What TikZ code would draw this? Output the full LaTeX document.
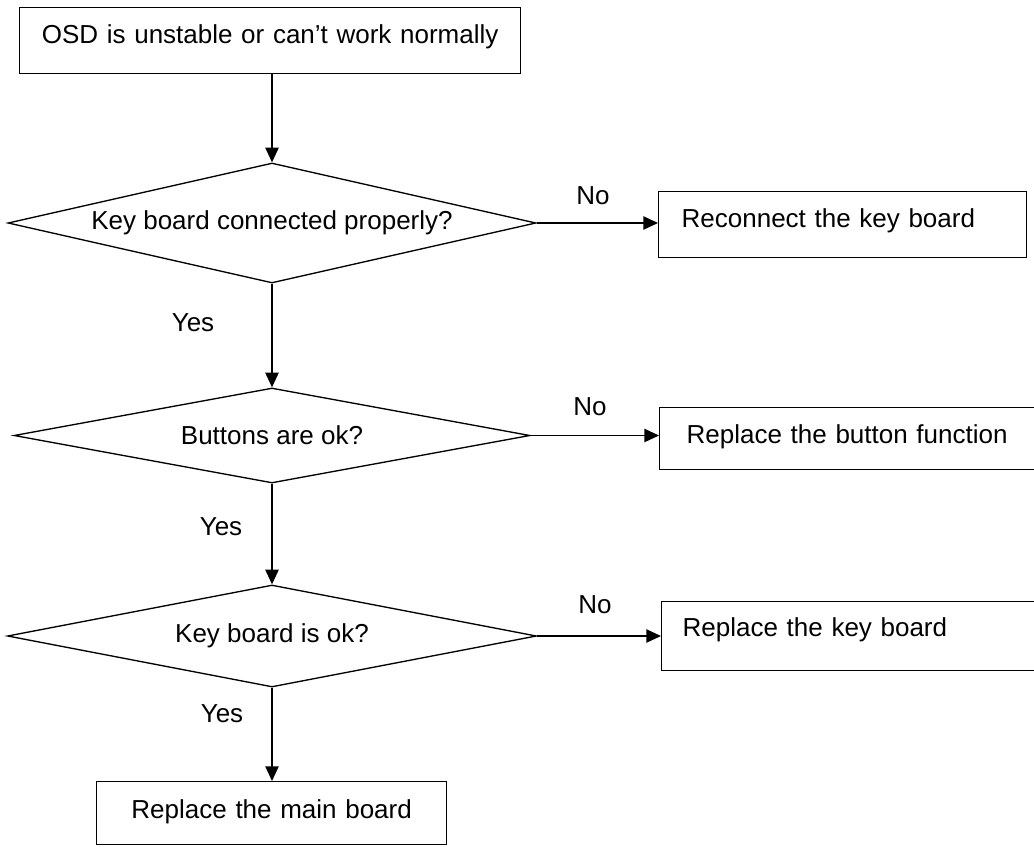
\documentclass[tikz,border=0pt]{standalone}
\usepackage{fontspec}
\setmainfont{Liberation Sans}
\usetikzlibrary{shapes.geometric,arrows.meta}

\begin{document}
\begin{tikzpicture}[x=0.75pt, y=-0.75pt,
        every node/.style={font=\fontsize{19.5pt}{23pt}\selectfont},
        procbox/.style={draw=black, line width=1pt, rectangle, inner sep=0pt, text height=27pt, anchor=north west},
        decision/.style={draw=black, line width=1pt, diamond, aspect=4.4, inner sep=0pt},
        flow/.style={-{Triangle[length=11pt,width=10pt]}, line width=1pt},
        lbl/.style={inner sep=0pt}]
        \useasboundingbox (0,0) rectangle (1034,846);

        % boxes
        \node[procbox, text width=375.75pt, align=center, text depth=22.5pt] (start) at (19,7) {OSD is unstable or can’t work normally};
        \node[procbox, inner xsep=17.25pt, text width=241.5pt, align=left, text depth=22.5pt] (fix1) at (658,191) {Reconnect the key board};
        \node[procbox, inner xsep=20.25pt, text width=245.25pt, align=left, text depth=19.5pt] (fix2) at (659,407) {Replace the button function};
        \node[procbox, inner xsep=15.75pt, text width=252.75pt, align=left, text height=26.25pt, text depth=25.5pt] (fix3) at (661,601) {Replace the key board};
        \node[procbox, text width=262.5pt, align=center, text height=27.75pt, text depth=19.5pt] (mainfix) at (96,781) {Replace the main board};

        % questions
        \node[decision, minimum width=396pt, minimum height=90pt] (q1) at (272,223) {Key board connected properly?};
        \node[decision, minimum width=387pt, minimum height=71.25pt] (q2) at (272,435.5) {Buttons are ok?};
        \node[decision, minimum width=396.75pt, minimum height=76.5pt] (q3) at (272,636) {Key board is ok?};

        % arrows
        \draw[flow] (q1.north |- start.south) -- (q1.north);
        \draw[flow] (q1.east) -- (q1.east -| fix1.west);
        \draw[flow] (q1.south) -- (q2.north);
        \draw[flow] (q2.east) -- (q2.east -| fix2.west);
        \draw[flow] (q2.south) -- (q3.north);
        \draw[flow] (q3.east) -- (q3.east -| fix3.west);
        \draw[flow] (q3.south) -- (q3.south |- mainfix.north);

        \node[lbl] (no1) at (593,196) {No};
        \node[lbl] (no2) at (590,407) {No};
        \node[lbl] (no3) at (595,605) {No};
        \node[lbl] (yes1) at (193,323) {Yes};
        \node[lbl] (yes2) at (221,527) {Yes};
        \node[lbl] (yes3) at (222,714) {Yes};
    \end{tikzpicture}
\end{document}
